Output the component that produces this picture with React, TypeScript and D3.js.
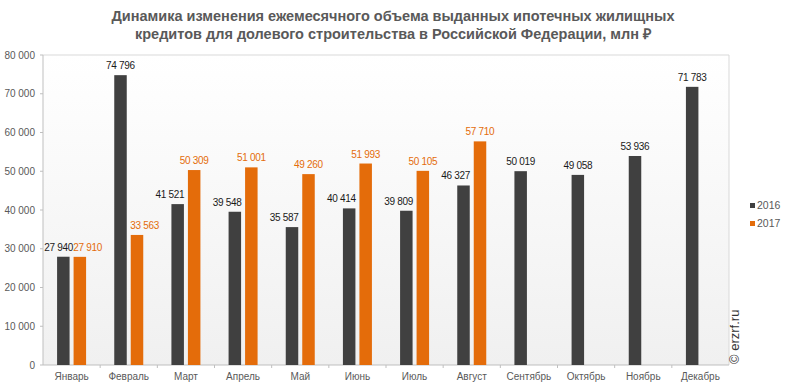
import React from "react";
import * as d3 from "d3";

const months = ["Январь","Февраль","Март","Апрель","Май","Июнь","Июль","Август","Сентябрь","Октябрь","Ноябрь","Декабрь"];
const values2016 = [27940, 74796, 41521, 39548, 35587, 40414, 39809, 46327, 50019, 49058, 53936, 71783];
const values2017: (number | null)[] = [27910, 33563, 50309, 51001, 49260, 51993, 50105, 57710, null, null, null, null];
const yTicks = [0, 10000, 20000, 30000, 40000, 50000, 60000, 70000, 80000];
const seriesNames = ["2016", "2017"];
const titleLines = [
  "Динамика изменения ежемесячного объема выданных ипотечных жилищных",
  "кредитов для долевого строительства в Российской Федерации, млн ₽",
];

const C16 = "#404040";
const C17 = "#E46C0A";

const fmt = (v: number) => d3.format(",")(v).replace(/,/g, " ");

export default function App() {
  const W = 787, H = 390;
  const left = 43, right = 729, top = 55, bottom = 365;
  const x = d3.scaleBand<string>().domain(months).range([left, right]).padding(0);
  const y = d3.scaleLinear().domain([0, 80000]).range([bottom, top]);
  const bw = 12.5;
  const gap = 4;
  const labW = 28;
  const font = "Arial, 'Liberation Sans', sans-serif";
  return (
    <svg width={W} height={H} style={{ position: "absolute", left: 0, top: 0, background: "#fff" }} fontFamily={font}>
      <defs>
        <linearGradient id="bg" x1="0" y1="0" x2="0" y2="1">
          <stop offset="0" stopColor="#ffffff" />
          <stop offset="1" stopColor="#f0f0f0" />
        </linearGradient>
      </defs>
      {titleLines.map((t, i) => (
        <text key={i} x={393} y={21 + i * 18} textAnchor="middle" fontSize={14.5} fontWeight="bold" fill="#595959">{t}</text>
      ))}
      <rect x={left} y={top} width={right - left} height={bottom - top} fill="url(#bg)" />
      <line x1={left} x2={right} y1={top} y2={top} stroke="#d9d9d9" />
      <line x1={right} x2={right} y1={top} y2={bottom} stroke="#d9d9d9" />
      <line x1={left} x2={right} y1={bottom} y2={bottom} stroke="#bfbfbf" />
      <line x1={left} x2={left} y1={top} y2={bottom} stroke="#bfbfbf" />
      {yTicks.map((t) => (
        <g key={t}>
          <line x1={left - 3} x2={left} y1={y(t)} y2={y(t)} stroke="#bfbfbf" />
          <text x={left - 8} y={y(t) + 3.5} textAnchor="end" fontSize={10} fill="#595959">{fmt(t)}</text>
        </g>
      ))}
      {months.map((m, i) => {
        const cx = (x(m) as number) + x.bandwidth() / 2;
        return (
          <g key={m}>
            {i > 0 && <line x1={x(m)} x2={x(m)} y1={bottom} y2={bottom + 3} stroke="#bfbfbf" />}
            <text x={cx} y={bottom + 15} textAnchor="middle" fontSize={10} fill="#595959">{m}</text>
          </g>
        );
      })}
      {months.map((m, i) => {
        const cx = (x(m) as number) + x.bandwidth() / 2;
        const v2 = values2017[i];
        const has2 = v2 !== null;
        const x16 = cx - gap / 2 - bw;
        const x17 = cx + gap / 2;
        const v1 = values2016[i];
        let l1 = x16 + bw / 2;
        let l2 = x17 + bw / 2;
        if (has2) {
          const y1 = y(v1), y2 = y(v2 as number);
          if (v2 as number > v1) {
            l1 = x16 + bw - labW / 2;
          } else {
            l2 = x17 + labW / 2;
          }
          if (Math.abs(y1 - y2) < 12 && l2 - l1 < labW + 1) {
            l1 = l2 - labW - 1;
          }
        }
        return (
          <g key={m}>
            <rect x={x16} y={y(v1)} width={bw} height={bottom - y(v1)} fill={C16} />
            <text x={l1} y={y(v1) - 6} textAnchor="middle" fontSize={10} letterSpacing={-0.3} fill="#1a1a1a">{fmt(v1)}</text>
            {has2 && (
              <>
                <rect x={x17} y={y(v2 as number)} width={bw} height={bottom - y(v2 as number)} fill={C17} />
                <text x={l2} y={y(v2 as number) - 6} textAnchor="middle" fontSize={10} letterSpacing={-0.3} fill={C17}>{fmt(v2 as number)}</text>
              </>
            )}
          </g>
        );
      })}
      {seriesNames.map((s, i) => (
        <g key={s}>
          <rect x={750} y={203 + i * 18} width={5} height={5} fill={i === 0 ? C16 : C17} />
          <text x={757} y={209 + i * 18} fontSize={10.5} fill="#595959">{s}</text>
        </g>
      ))}
      <text transform={`translate(739,${bottom - 1}) rotate(-90)`} fontSize={13} fill="#333">© erzrf.ru</text>
    </svg>
  );
}
